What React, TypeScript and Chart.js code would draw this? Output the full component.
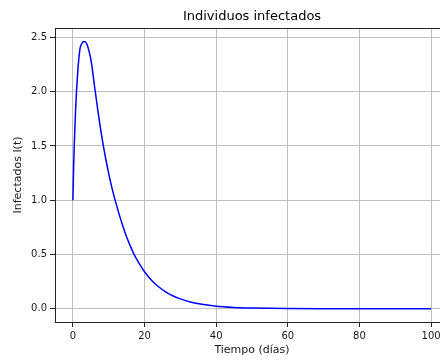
import React, { useEffect, useRef } from "react";
import { Chart, registerables } from "chart.js";

Chart.register(...registerables);

// Infected individuals over time (days)
const tDays = [
  0, 0.1, 0.2, 0.35, 0.5, 0.75, 1.0, 1.25, 1.5, 2.0, 2.5, 3.0, 3.5, 4.0, 4.5,
  5.0, 5.5, 6, 7, 8, 9, 10, 11, 12, 13, 14, 15, 16, 17, 18, 19, 20, 22, 24, 26,
  28, 30, 33, 36, 40, 45, 50, 55, 60, 70, 80, 90, 100,
];
const infected = [
  1.0, 1.16, 1.3, 1.48, 1.62, 1.83, 2.0, 2.13, 2.25, 2.4, 2.445, 2.463, 2.46,
  2.43, 2.375, 2.3, 2.19, 2.06, 1.82, 1.6, 1.41, 1.245, 1.1, 0.975, 0.86,
  0.755, 0.66, 0.58, 0.505, 0.445, 0.39, 0.34, 0.26, 0.2, 0.153, 0.117, 0.09,
  0.06, 0.04, 0.022, 0.011, 0.0055, 0.0027, 0.0013, 0.0003, 0.0001, 0, 0,
];
const xTicks = [0, 20, 40, 60, 80, 100];
const yTicks = [0, 0.5, 1.0, 1.5, 2.0, 2.5];
const titleText = "Individuos infectados";

const FONT = "'DejaVu Sans', sans-serif";
const TEXT = "#1a1a1a";
const SPINE = "#262626";

// Top/right spines and a title centred over the plot area
const frame = {
  id: "frame",
  afterDraw(chart: any) {
    const { ctx, chartArea: a } = chart;
    ctx.save();
    ctx.strokeStyle = SPINE;
    ctx.lineWidth = 1;
    ctx.beginPath();
    ctx.moveTo(a.left, a.top + 0.5);
    ctx.lineTo(a.right, a.top + 0.5);
    ctx.moveTo(a.right + 0.5, a.top);
    ctx.lineTo(a.right + 0.5, a.bottom);
    ctx.stroke();

    ctx.fillStyle = "#000";
    ctx.font = `13px ${FONT}`;
    ctx.textAlign = "center";
    ctx.textBaseline = "middle";
    ctx.fillText(titleText, (a.left + a.right) / 2, 16.5);
    ctx.restore();
  },
};

export default function App() {
  const ref = useRef<HTMLCanvasElement>(null);

  useEffect(() => {
    document.body.style.margin = "0";
    const chart = new Chart(ref.current!, {
      type: "line",
      data: {
        datasets: [
          {
            data: tDays.map((t, i) => ({ x: t, y: infected[i] })),
            borderColor: "#0000ff",
            borderWidth: 1.5,
            pointRadius: 0,
            fill: false,
            cubicInterpolationMode: "monotone",
          },
        ],
      },
      options: {
        responsive: false,
        animation: false,
        layout: { padding: { left: 0, right: 11, top: 28, bottom: 0 } },
        plugins: {
          legend: { display: false },
          tooltip: { enabled: false },
          title: { display: false },
        },
        scales: {
          x: {
            type: "linear",
            min: -5,
            max: 105,
            afterFit: (s: any) => {
              s.height = 39;
            },
            afterBuildTicks: (s: any) => {
              s.ticks = xTicks.map((v) => ({ value: v }));
            },
            ticks: {
              autoSkip: false,
              maxRotation: 0,
              padding: 3,
              color: TEXT,
              font: { family: FONT, size: 10 },
              callback: (v: any) => String(v),
            },
            grid: {
              color: "#b0b0b0",
              lineWidth: 0.8,
              tickLength: 5,
              tickColor: SPINE,
              tickWidth: 1,
            },
            border: { color: SPINE, width: 1 },
            title: {
              display: true,
              text: "Tiempo (días)",
              color: TEXT,
              font: { family: FONT, size: 11 },
              padding: { top: 0, bottom: 4 },
            },
          },
          y: {
            type: "linear",
            min: -0.123,
            max: 2.588,
            afterFit: (s: any) => {
              s.width = 55;
            },
            afterBuildTicks: (s: any) => {
              s.ticks = yTicks.map((v) => ({ value: v }));
            },
            ticks: {
              autoSkip: false,
              padding: 3,
              color: TEXT,
              font: { family: FONT, size: 10 },
              callback: (v: any) => Number(v).toFixed(1),
            },
            grid: {
              color: "#b0b0b0",
              lineWidth: 0.8,
              tickLength: 5,
              tickColor: SPINE,
              tickWidth: 1,
            },
            border: { color: SPINE, width: 1 },
            title: {
              display: true,
              text: "Infectados I(t)",
              color: TEXT,
              font: { family: FONT, size: 11 },
              padding: { top: 11.4, bottom: 0 },
            },
          },
        },
      },
      plugins: [frame],
    });
    return () => chart.destroy();
  }, []);

  return (
    <div
      style={{
        position: "absolute",
        left: 0,
        top: 0,
        width: 440,
        height: 361,
        overflow: "hidden",
        background: "#fff",
      }}
    >
      <canvas ref={ref} width={460} height={361} style={{ display: "block" }} />
    </div>
  );
}
